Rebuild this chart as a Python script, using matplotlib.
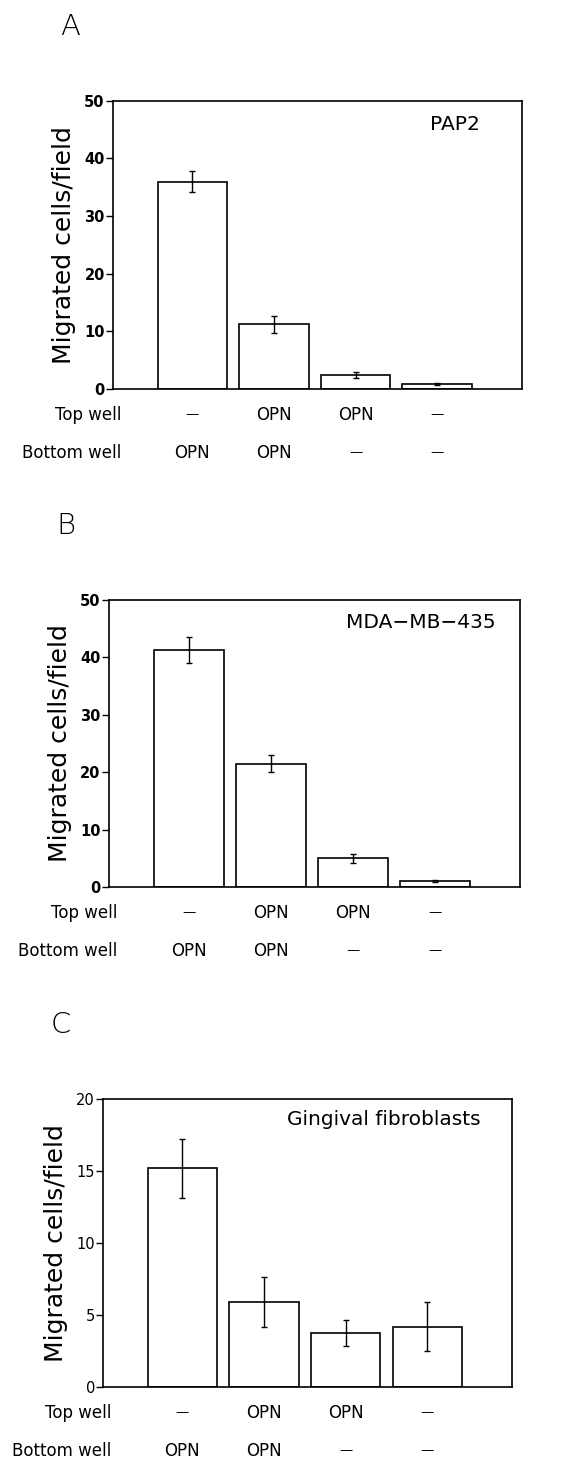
import matplotlib

matplotlib.use("Agg")
import matplotlib.pyplot as plt
import matplotlib.transforms as mtransforms

plt.rcParams["font.family"] = ["DejaVu Sans"]

# values
positions = [1, 2, 3, 4]
top_well = ["—", "OPN", "OPN", "—"]
bottom_well = ["OPN", "OPN", "—", "—"]

pap2_mean = [36.0, 11.2, 2.4, 0.9]
pap2_err = [1.9, 1.5, 0.5, 0.2]

mda_mean = [41.3, 21.5, 5.0, 1.0]
mda_err = [2.3, 1.5, 0.8, 0.2]

gingival_mean = [15.2, 5.9, 3.75, 4.2]
gingival_err = [2.05, 1.75, 0.9, 1.7]

panels = [
    # letter, label, means, errs, ymax, yticks, axes rect, tick weight, label pos
    ("A", "PAP2", pap2_mean, pap2_err, 50, [0, 10, 20, 30, 40, 50],
     [0.195, 0.7336, 0.705, 0.1973], "bold", (0.897, 0.917)),
    ("B", "MDA−MB−435", mda_mean, mda_err, 50, [0, 10, 20, 30, 40, 50],
     [0.188, 0.3925, 0.709, 0.1966], "bold", (0.939, 0.92)),
    ("C", "Gingival fibroblasts", gingival_mean, gingival_err, 20, [0, 5, 10, 15, 20],
     [0.178, 0.050, 0.705, 0.1973], "normal", (0.922, 0.927)),
]

fig = plt.figure(figsize=(5.8, 14.6), dpi=100)


def row_text(ax, trans, x, y, s):
    if s == "—":
        ax.text(x, y, s, transform=trans, ha="center", va="center",
                fontsize=9.5)
    else:
        ax.text(x, y, s, transform=trans, ha="center", va="center", fontsize=12)


for letter, label, means, errs, ymax, yticks, rect, tw, lpos in panels:
    ax = fig.add_axes(rect)
    ax.bar(positions, means, width=0.85, color="white", edgecolor="black",
           linewidth=1.2, zorder=2)
    ax.errorbar(positions, means, yerr=errs, fmt="none", ecolor="black",
                elinewidth=1.0, capsize=2.5, capthick=1.0, zorder=3)
    ax.set_xlim(0.03, 5.04)
    ax.set_ylim(0, ymax)
    ax.set_yticks(yticks)
    ax.set_xticks([])
    ax.tick_params(axis="y", direction="out", length=5, width=1.0, pad=1,
                   labelsize=10.5)
    for t in ax.get_yticklabels():
        t.set_fontweight(tw)
    for sp in ax.spines.values():
        sp.set_linewidth(1.2)
    ax.set_ylabel("Migrated cells/field", fontsize=18, labelpad=6)
    ax.text(lpos[0], lpos[1], label, transform=ax.transAxes, fontsize=14.5,
            ha="right", va="center")

    trans = mtransforms.blended_transform_factory(ax.transData, ax.transAxes)
    ax.text(0.13, -0.09, "Top well", transform=trans, ha="right", va="center",
            fontsize=12)
    ax.text(0.13, -0.222, "Bottom well", transform=trans, ha="right", va="center",
            fontsize=12)
    for x, tw_lab, bw_lab in zip(positions, top_well, bottom_well):
        row_text(ax, trans, x, -0.09, tw_lab)
        row_text(ax, trans, x, -0.222, bw_lab)

    # panel letter
    ax.text(-0.105, 1.258, letter, transform=ax.transAxes, fontsize=21,
            fontweight="light", ha="center", va="center")

fig.savefig("out.png", dpi=100, facecolor="white")
